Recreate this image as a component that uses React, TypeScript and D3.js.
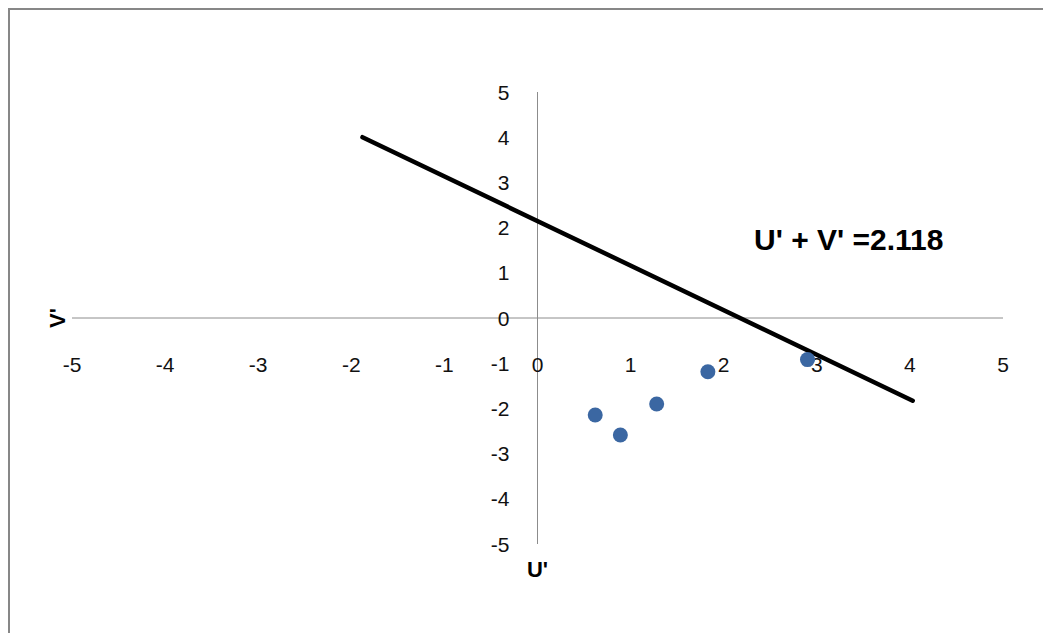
import React from "react";
import * as d3 from "d3";

const xTicks = [-5, -4, -3, -2, -1, 0, 1, 2, 3, 4, 5];
const yTicks = [-5, -4, -3, -2, -1, 0, 1, 2, 3, 4, 5];
const pointsU = [0.62, 0.89, 1.28, 1.83, 2.9];
const pointsV = [-2.146, -2.59, -1.903, -1.19, -0.92];
const lineU = [-1.88, 4.03];
const lineV = [4.0, -1.83];
const equationLabel = "U' + V' =2.118";
const xTitle = "U'";
const yTitle = "V'";

export default function App() {
  const W = 1043;
  const H = 633;
  const x = d3.scaleLinear().domain([-5, 5]).range([72, 1003]);
  const y = d3.scaleLinear().domain([-5, 5]).range([544, 92]);
  const font = "'Liberation Sans', Arial, sans-serif";
  const line = d3
    .line<number>()
    .x((_, i) => x(lineU[i]))
    .y((_, i) => y(lineV[i]));
  const axisColor = "#8c8c8c";
  return (
    <svg
      width={W}
      height={H}
      style={{ position: "absolute", left: 0, top: 0, background: "#fff" }}
      fontFamily={font}
    >
      <rect x={0} y={0} width={W} height={H} fill="#fff" />
      <line x1={8} y1={9} x2={W} y2={9} stroke="#878787" strokeWidth={2} />
      <line x1={9} y1={9} x2={9} y2={H} stroke="#878787" strokeWidth={2} />
      {/* axes */}
      <line x1={x(-5)} x2={x(5)} y1={y(0)} y2={y(0)} stroke={axisColor} strokeWidth={1} />
      <line x1={x(0)} x2={x(0)} y1={y(5)} y2={y(-5)} stroke={axisColor} strokeWidth={1} />
      {xTicks.map((t) => (
        <text
          key={"x" + t}
          x={x(t)}
          y={y(0) + 54}
          textAnchor="middle"
          fontSize={21}
          fill="#111"
        >
          {t}
        </text>
      ))}
      {yTicks.map((t) => (
        <text
          key={"y" + t}
          x={x(0) - 28}
          y={y(t) + 7.5}
          textAnchor="end"
          fontSize={21}
          fill="#111"
        >
          {t}
        </text>
      ))}
      <path d={line(lineU) || ""} fill="none" stroke="#000" strokeWidth={4.5} strokeLinecap="round" />
      {pointsU.map((u, i) => (
        <circle key={"p" + i} cx={x(u)} cy={y(pointsV[i])} r={7.5} fill="#3b67a2" />
      ))}
      <text x={754} y={250} fontSize={30} fontWeight="bold" fill="#000">
        {equationLabel}
      </text>
      <text x={x(0)} y={577} textAnchor="middle" fontSize={22} fontWeight="bold" fill="#000">
        {xTitle}
      </text>
      <text
        transform={`translate(65, ${y(0)}) rotate(-90)`}
        textAnchor="middle"
        fontSize={22}
        fontWeight="bold"
        fill="#000"
      >
        {yTitle}
      </text>
    </svg>
  );
}
